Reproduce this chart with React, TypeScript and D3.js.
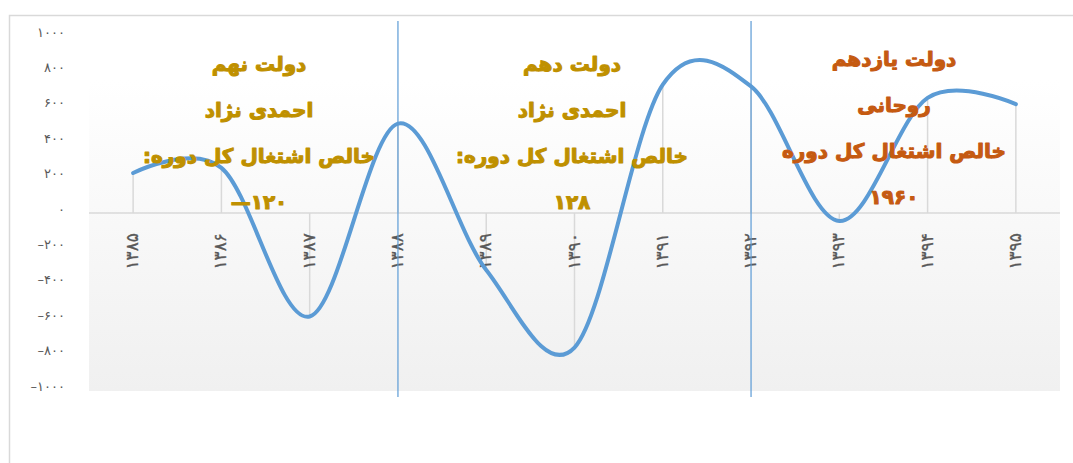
import React from "react";
import * as d3 from "d3";

const categories = ["1385", "1386", "1387", "1388", "1389", "1390", "1391", "1392", "1393", "1394", "1395"];
const values = [226, 255, -585, 505, -322, -760, 725, 715, -45, 650, 615];
const yTickValues = [1000, 800, 600, 400, 200, 0, -200, -400, -600, -800, -1000];
const separatorYears = ["1388", "1392"];

const block1 = ["دولت نهم", "احمدی نژاد", "خالص اشتغال کل دوره:", "—۱۲۰"];
const block2 = ["دولت دهم", "احمدی نژاد", "خالص اشتغال کل دوره:", "۱۲۸"];
const block3 = ["دولت یازدهم", "روحانی", "خالص اشتغال کل دوره", "۱۹۶۰"];

const W = 1073;
const H = 463;
const PLOT_L = 89;
const PLOT_R = 1060;
const Y_TOP = 36;
const Y_BOT = 390;

const fa = (s: string) => s.replace(/\d/g, (d) => "۰۱۲۳۴۵۶۷۸۹"[+d]);
const faNum = (v: number) => (v < 0 ? "–" + fa(String(-v)) : fa(String(v)));

export default function App() {
  const x = d3.scaleBand<string>().domain(categories).range([PLOT_L, PLOT_R]).padding(0);
  const cx = (c: string) => (x(c) as number) + x.bandwidth() / 2;
  const y = d3.scaleLinear().domain([-1000, 1000]).range([Y_BOT, Y_TOP]);

  const pts: [number, number][] = categories.map((c, i) => [cx(c), y(values[i])]);
  const path = d3.line().curve(d3.curveCardinal.tension(0))(pts) as string;

  const blocks = [
    { lines: block1, x: 259, y0: 65, color: "#BF9000" },
    { lines: block2, x: 572, y0: 65, color: "#BF9000" },
    { lines: block3, x: 894, y0: 60, color: "#C55A11" },
  ];

  return (
    <svg width={W} height={H} style={{ position: "absolute", left: 0, top: 0, background: "#fff" }}>
      <defs>
        <linearGradient id="bg" x1="0" y1="0" x2="0" y2="1">
          <stop offset="0" stopColor="#ffffff" />
          <stop offset="1" stopColor="#f0f0f0" />
        </linearGradient>
      </defs>
      <rect x={9.5} y={15.5} width={1100} height={600} fill="#fff" stroke="#d9d9d9" strokeWidth={1.5} />
      <rect x={PLOT_L} y={80} width={PLOT_R - PLOT_L} height={Y_BOT + 1 - 80} fill="url(#bg)" />

      {/* drop lines */}
      {categories.map((c, i) => (
        <line key={c} x1={cx(c)} x2={cx(c)} y1={y(0)} y2={y(values[i])} stroke="#d9d9d9" strokeWidth={1.5} />
      ))}
      {/* zero line */}
      <line x1={PLOT_L} x2={PLOT_R} y1={y(0)} y2={y(0)} stroke="#d9d9d9" strokeWidth={1.5} />

      {/* y labels */}
      {yTickValues.map((v) => (
        <text
          key={v}
          x={65}
          y={y(v) - 3}
          textAnchor="end"
          dominantBaseline="middle"
          fontFamily="DejaVu Sans"
          fontSize={13}
          letterSpacing={4}
          fill="#595959"
          direction="ltr"
        >
          {faNum(v)}
        </text>
      ))}

      {/* x labels */}
      {categories.map((c) => (
        <text
          key={c}
          transform={`translate(${cx(c)},233) rotate(-90)`}
          textAnchor="end"
          dominantBaseline="middle"
          fontFamily="DejaVu Sans"
          fontSize={17}
          fill="#595959"
          stroke="#595959"
          strokeWidth={0.3}
        >
          {fa(c)}
        </text>
      ))}

      {/* data line */}
      <path d={path} fill="none" stroke="#5B9BD5" strokeWidth={4} strokeLinecap="round" />

      {/* separators */}
      {separatorYears.map((c) => (
        <line key={c} x1={cx(c)} x2={cx(c)} y1={21} y2={397} stroke="#5B9BD5" strokeWidth={1.2} />
      ))}

      {/* annotations */}
      {blocks.map((b, bi) =>
        b.lines.map((t, li) => (
          <text
            key={bi + "-" + li}
            x={b.x}
            y={b.y0 + li * 46}
            textAnchor="middle"
            dominantBaseline="middle"
            fontFamily="DejaVu Sans"
            fontWeight="bold"
            fontSize={20}
            fill={b.color}
            stroke={b.color}
            strokeWidth={1.1}
            strokeLinejoin="round"
            direction={li === 3 ? "ltr" : "rtl"}
          >
            {t}
          </text>
        ))
      )}
    </svg>
  );
}
